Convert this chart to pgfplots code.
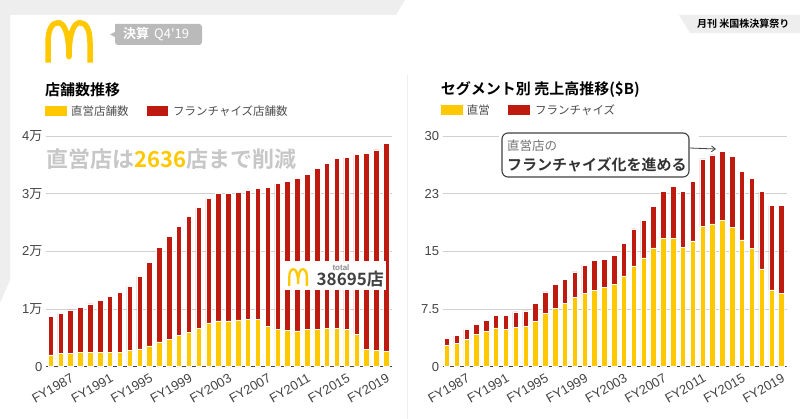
\documentclass[border=0pt]{standalone}
\usepackage{pgfplots}
\pgfplotsset{compat=1.18}
\usepackage{pgfplotstable}
\usepackage{fontspec}
\setmainfont{Liberation Sans}
\newfontfamily\jp{Noto Sans CJK JP}[BoldFont={Noto Sans CJK JP Bold}]
\usetikzlibrary{arrows.meta}

\definecolor{mcy}{HTML}{FFC800}
\definecolor{mcr}{HTML}{BF1A10}
\definecolor{tick}{HTML}{444444}
\definecolor{gridc}{HTML}{D0D0D0}
\definecolor{bgg}{HTML}{EEEEEE}

\pgfplotstableread{
x own fr
0 2030 6656
1 2316 6891
2 2316 7528
3 2548 7701
4 2548 8338
5 2548 8975
6 2548 9670
7 2548 10307
8 2780 11175
9 3069 12623
10 3590 14476
11 4285 16387
12 4748 17834
13 5385 18935
14 5964 20151
15 6659 20961
16 7585 21541
17 7933 22061
18 7933 22107
19 8107 22177
20 8164 22467
21 8164 22699
22 6948 24146
23 6485 25246
24 6311 25826
25 6196 26404
26 6485 26810
27 6485 27852
28 6659 28546
29 6659 29415
30 6485 29820
31 5617 31152
32 3011 33932
33 2780 34800
34 2636 36059
}\stores

\pgfplotstableread{
x own fr
0 2.74 0.99
1 3.04 1.00
2 3.56 1.30
3 4.21 1.30
4 4.60 1.39
5 5.04 1.60
6 4.86 1.78
7 5.08 2.04
8 5.21 2.04
9 5.91 2.34
10 6.90 2.83
11 7.56 3.12
12 8.25 3.08
13 8.99 3.34
14 9.51 3.65
15 9.94 3.87
16 10.29 3.69
17 10.68 3.78
18 11.81 4.26
19 13.11 4.82
20 14.16 4.90
21 15.46 5.34
22 16.67 6.08
23 16.67 6.73
24 15.54 7.21
25 16.37 7.69
26 18.28 8.73
27 18.58 8.95
28 18.98 8.98
29 18.11 9.20
30 16.50 8.86
31 15.37 9.16
32 12.72 10.03
33 9.99 10.98
34 9.55 11.42
}\revenue

\newcommand{\mclogo}[3]{%
  \begin{scope}[shift={(#1,#2)},scale=#3]
    \draw[mcy,line width=#3*5.5pt,line cap=butt,line join=round]
      (3,40) -- (3,20) .. controls (3,6) and (7.5,0) .. (13,0)
      .. controls (19,0) and (24,10) .. (24,34)
      .. controls (24,10) and (29,0) .. (35,0)
      .. controls (40.5,0) and (45,6) .. (45,20) -- (45,40);
  \end{scope}}

\pgfplotsset{
  mybars/.style={
    scale only axis, ybar stacked, bar width=0.55,
    enlargelimits=false, ymin=0, scaled y ticks=false,
    axis line style={draw=none}, tick style={draw=none},
    ymajorgrids, grid style={gridc,line width=0.9pt},
    xtick={2,6,...,34},
    xticklabels={FY1987,FY1991,FY1995,FY1999,FY2003,FY2007,FY2011,FY2015,FY2019},
    xticklabel style={rotate=30,anchor=north east,font=\fontsize{13}{15}\selectfont,text=tick,yshift=-2pt},
    yticklabel style={font=\fontsize{13}{15}\selectfont,text=tick},
  },
  ownbar/.style={fill=mcy,draw=white,line width=0.5pt},
  frbar/.style={fill=mcr,draw=white,line width=0.5pt},
}

\begin{document}
\begin{tikzpicture}
\useasboundingbox (0,0) rectangle (800pt,419pt);
\fill[white] (0,0) rectangle (800pt,419pt);
\begin{scope}[yshift=419pt,x=1pt,y=-1pt]
  % background frame
  \fill[bgg] (0,0) -- (405,0) -- (396,15) -- (10,15) -- (10,280) -- (0,303) -- cycle;
  \draw[bgg,line width=0.8pt] (407,75) -- (407,419);
  % logo and tag
  \mclogo{45}{22.7}{1}
  \fill[black!27] (115,24) [rounded corners=3pt] -- (202,24) -- (202,45) -- (115,45) [sharp corners] -- (115,37) -- (110,34.5) -- (115,32) -- cycle;
  \node[anchor=west,text=white,inner sep=0pt,font=\jp\bfseries\fontsize{13}{14}\selectfont] at (123,34.5) {決算\hspace{5pt}{\mdseries Q4'19}};
  % top-right tag
  \shade[left color=bgg!60!black!15, right color=bgg] (679,15) -- (800,15) -- (800,33) -- (690,33) -- cycle;
  \node[anchor=west,inner sep=0pt,font=\jp\bfseries\fontsize{10}{11}\selectfont] at (697,24) {月刊 米国株決算祭り};
  % left title and legend
  \node[anchor=west,inner sep=0pt,font=\jp\bfseries\fontsize{15}{16}\selectfont] at (45,90) {店舗数推移};
  \fill[mcy] (45,106) rectangle (66.7,116);
  \node[anchor=west,inner sep=0pt,text=black!70,font=\jp\fontsize{11.5}{12}\selectfont] at (71,111) {直営店舗数};
  \fill[mcr] (146.7,106) rectangle (168.3,116);
  \node[anchor=west,inner sep=0pt,text=black!70,font=\jp\fontsize{11.5}{12}\selectfont] at (173,111) {フランチャイズ店舗数};
  % right title and legend
  \node[anchor=west,inner sep=0pt,font=\jp\bfseries\fontsize{15}{16}\selectfont] at (440.7,90) {セグメント別 売上高推移(\$B)};
  \fill[mcy] (440.7,105.3) rectangle (462.7,115.5);
  \node[anchor=west,inner sep=0pt,text=black!70,font=\jp\fontsize{11.5}{12}\selectfont] at (466.7,110.5) {直営};
  \fill[mcr] (508.3,105.3) rectangle (530,115.5);
  \node[anchor=west,inner sep=0pt,text=black!70,font=\jp\fontsize{11.5}{12}\selectfont] at (535,110.5) {フランチャイズ};
\end{scope}

\begin{axis}[mybars, at={(46pt,52.3pt)}, anchor=south west,
  width=346pt, height=230.7pt, xmin=-0.48, xmax=34.6, ymax=40000,
  ytick={0,10000,20000,30000,40000},
  yticklabels={0,{1{\jp 万}},{2{\jp 万}},{3{\jp 万}},{4{\jp 万}}}]
\addplot[ownbar] table[x=x,y=own] {\stores};
\addplot[frbar] table[x=x,y=fr] {\stores};
\draw[black!75,line width=1.3pt] (rel axis cs:0,0) -- (rel axis cs:1,0);
\end{axis}

\begin{axis}[mybars, at={(442.7pt,52.3pt)}, anchor=south west,
  width=344pt, height=230.7pt, xmin=-0.42, xmax=34.55, ymax=30,
  ytick={0,7.5,15,22.5,30},
  yticklabels={0,7.5,15,23,30}]
\addplot[ownbar] table[x=x,y=own] {\revenue};
\addplot[frbar] table[x=x,y=fr] {\revenue};
\draw[black!75,line width=1.3pt] (rel axis cs:0,0) -- (rel axis cs:1,0);
\end{axis}

\begin{scope}[yshift=419pt,x=1pt,y=-1pt]
  % left annotation
  \node[anchor=west,inner sep=0pt,text=black!22,font=\jp\bfseries\fontsize{22}{24}\selectfont] at (46.7,159) {直営店は{\color{mcy}2636}店まで削減};
  % total box
  \fill[white] (285,261) rectangle (386,290);
  \mclogo{288}{269.2}{0.42}
  \node[inner sep=0pt,text=black!45,font=\bfseries\fontsize{8}{9}\selectfont] at (341,267.5) {total};
  \node[anchor=west,inner sep=0pt,text=black!75,font=\jp\bfseries\fontsize{17}{18}\selectfont] at (316.5,279) {38695店};
  % callout
  \fill[white] (499,130) rectangle (699,142);
  \draw[black!75,line width=1.1pt,fill=white,rounded corners=6pt] (502,133) rectangle (689,177);
  \node[anchor=west,inner sep=0pt,text=black!55,font=\jp\fontsize{12.5}{13}\selectfont] at (507,146) {直営店の};
  \node[anchor=west,inner sep=0pt,text=black!80,font=\jp\bfseries\fontsize{15}{16}\selectfont] at (507,165) {フランチャイズ化を進める};
  \draw[black!75,line width=0.8pt,-{Straight Barb[length=4pt,width=6pt]}] (689.5,148) -- (716,149);
\end{scope}
\end{tikzpicture}
\end{document}
